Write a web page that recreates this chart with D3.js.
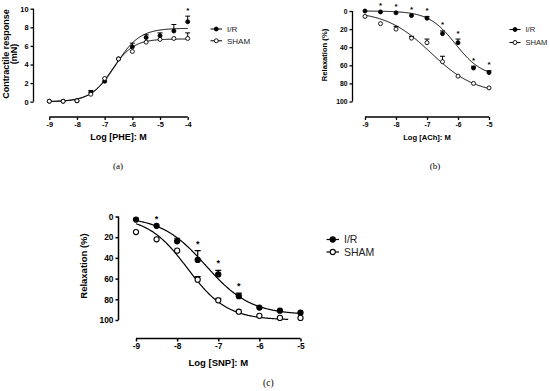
<!DOCTYPE html>
<html>
	<head>
		<meta charset="utf-8">
		<style>
			body {
				margin: 0;
				background: #fff;
			}
			svg {
				display: block;
				font-family: 'Liberation Sans', Arial, sans-serif;
			}
			.tick text {
				font-weight: bold;
			}
		</style>
	</head>
	<body>
		<svg id="chart" width="550" height="391"></svg>
		<script src="https://cdnjs.cloudflare.com/ajax/libs/d3/7.8.5/d3.min.js"></script>
		<script>
			// log molar concentrations
			let dosesA = [-9, -8.5, -8, -7.5, -7, -6.5, -6, -5.5, -5, -4.5, -4];
			let dosesBC = [-9, -8.5, -8, -7.5, -7, -6.5, -6, -5.5, -5];

			// (a) contractile response to PHE, mN
			let pheIR = [0.05, 0.05, 0.1, 1.0, 2.2, 4.6, 5.9, 6.9, 7.1, 7.6, 8.6];
			let pheIRErr = [0, 0, 0, 0.2, 0.3, 0, 0.4, 0.3, 0.3, 0.7, 0.6];
			let pheSham = [0.05, 0.05, 0.1, 0.8, 2.5, 4.6, 5.4, 6.4, 6.7, 6.8, 6.8];
			let pheShamErr = [0, 0, 0, 0, 0, 0, 0, 0, 0, 0, 0.6];
			let pheStars = [-4];
			// fitted curves: bottom, top, logEC50, hill
			let pheIRFit = [0, 7.9, -6.6, 1.0];
			let pheShamFit = [0, 6.75, -6.75, 1.1];

			// (b) relaxation to ACh, %
			let achIR = [0, 1, 2, 5, 8, 25, 35, 63, 68];
			let achIRErr = [0, 0, 0, 0, 2, 3, 4, 2, 2];
			let achSham = [6, 14, 20, 30, 35, 56, 72, 80, 85];
			let achShamErr = [0, 0, 3, 2, 4, 6, 0, 0, 0];
			let achStars = [-8.5, -8, -7.5, -7, -6.5, -6, -5.5, -5];
			let achIRFit = [0, 73, -6.08, 1.0];
			let achShamFit = [0, 92, -6.88, 0.6];

			// (c) relaxation to SNP, %
			let snpIR = [3, 9, 24, 42, 56, 77, 88, 91, 93];
			let snpIRErr = [0, 0, 3, 9, 4, 3, 0, 0, 0];
			let snpSham = [15, 22, 33, 61, 81, 92, 96, 98, 98];
			let snpShamErr = [0, 0, 0, 3, 2, 0, 0, 0, 0];
			let snpStars = [-8.5, -7.5, -7, -6.5];
			let snpIRFit = [0, 95, -7.3, 0.8];
			let snpShamFit = [0, 100, -7.75, 0.9];

			let seriesNames = ['I/R', 'SHAM'];
			let yTicksA = [0, 2, 4, 6, 8, 10];
			let yTicksBC = [0, 20, 40, 60, 80, 100];

			let svg = d3.select('#chart');

			function logistic(p, x) {
				return p[0] + (p[1] - p[0]) / (1 + Math.pow(10, (p[2] - x) * p[3]));
			}

			function panel(o) {
				let g = svg.append('g');
				let x = d3.scaleLinear().domain(o.xDomain).range(o.xRange);
				let y = d3.scaleLinear().domain(o.yDomain).range(o.yRange);
				// error bars go up on screen
				let dir = o.yRange[0] > o.yRange[1] ? 1 : -1;

				let yAxis = g.append('g')
					.attr('transform', `translate(${o.yAxisX},0)`)
					.call(d3.axisLeft(y).tickValues(o.yTicks).tickSize(3).tickPadding(2));
				let xAxis = g.append('g')
					.attr('transform', `translate(0,${o.xAxisY})`)
					.call(d3.axisBottom(x).tickValues(o.xTicks).tickSize(3).tickPadding(2)
						.tickFormat(d => String(d)));
				[yAxis, xAxis].forEach(a => {
					a.select('.domain').attr('stroke-width', o.axisW);
					a.selectAll('.tick line').attr('stroke-width', o.axisW);
					a.selectAll('.tick text').attr('font-size', o.tickFs).attr('fill', '#000');
				});
				xAxis.select('.domain').attr('d', `M${o.xRange[0]},0H${o.xRange[1]}`);
				yAxis.select('.domain').attr('d', `M0,${o.yRange[0]}V${o.yRange[1]}`);

				g.append('text')
					.attr('x', d3.mean(o.xRange))
					.attr('y', o.xTitleY)
					.attr('text-anchor', 'middle')
					.attr('font-weight', 'bold')
					.attr('font-size', o.titleFs)
					.text(o.xTitle);
				let yt = g.append('text')
					.attr('transform', `translate(${o.yTitleX},${o.yTitleY}) rotate(-90)`)
					.attr('text-anchor', 'middle')
					.attr('font-weight', 'bold')
					.attr('font-size', o.titleFs);
				o.yTitle.forEach((t, i) => {
					yt.append('tspan').attr('x', 0).attr('dy', i ? '0.93em' : 0).text(t);
				});

				g.append('text')
					.attr('x', o.label[0])
					.attr('y', o.label[1])
					.attr('text-anchor', 'middle')
					.attr('font-family', "'Liberation Serif', 'DejaVu Serif', serif")
					.attr('font-size', o.labelFs)
					.text(o.label[2]);

				let line = d3.line().x(d => x(d[0])).y(d => y(d[1]));
				o.series.forEach((s, si) => {
					let pts = d3.range(0, 201).map(i => {
						let xv = s.curve[0] + (s.curve[1] - s.curve[0]) * i / 200;
						return [xv, logistic(s.fit, xv)];
					});
					g.append('path')
						.attr('d', line(pts))
						.attr('fill', 'none')
						.attr('stroke', '#000')
						.attr('stroke-width', o.lineW);

					o.doses.forEach((d, i) => {
						let e = s.err[i];
						if (!e) return;
						let v = s.values[i];
						let y0 = y(v), y1 = y(v + e * dir);
						g.append('path')
							.attr('d', `M${x(d)},${y0}V${y1}M${x(d) - o.cap},${y1}H${x(d) + o.cap}`)
							.attr('stroke', '#000')
							.attr('stroke-width', o.lineW)
							.attr('fill', 'none');
					});

					g.selectAll(null)
						.data(o.doses)
						.join('circle')
						.attr('cx', d => x(d))
						.attr('cy', (d, i) => y(s.values[i]))
						.attr('r', o.r)
						.attr('fill', si === 0 ? '#000' : '#fff')
						.attr('stroke', '#000')
						.attr('stroke-width', o.lineW * 0.9);
				});

				// significance marks above I/R
				let ir = o.series[0];
				o.stars.forEach(d => {
					let i = o.doses.indexOf(d);
					let top = ir.values[i] + ir.err[i] * dir;
					g.append('text')
						.attr('x', x(d))
						.attr('y', y(top) - o.r - 1.5)
						.attr('text-anchor', 'middle')
						.attr('font-size', o.starFs)
						.attr('font-weight', 'bold')
						.text('*');
				});

				// legend
				seriesNames.forEach((n, i) => {
					let ly = o.legend[1] + i * o.legend[3];
					let lx = o.legend[0];
					g.append('line')
						.attr('x1', lx).attr('x2', lx + o.legend[2])
						.attr('y1', ly).attr('y2', ly)
						.attr('stroke', '#000')
						.attr('stroke-width', o.lineW);
					g.append('circle')
						.attr('cx', lx + o.legend[2] / 2)
						.attr('cy', ly)
						.attr('r', o.r)
						.attr('fill', i === 0 ? '#000' : '#fff')
						.attr('stroke', '#000')
						.attr('stroke-width', o.lineW * 0.9);
					g.append('text')
						.attr('x', lx + o.legend[2] + 5)
						.attr('y', ly)
						.attr('dy', '0.35em')
						.attr('font-size', o.legendFs)
						.attr('fill', '#222')
						.text(n);
				});
			}

			panel({
				doses: dosesA,
				xDomain: [-9, -4], xRange: [49.3, 187.7],
				yDomain: [0, 10], yRange: [101.7, 8.7],
				yAxisX: 33.5, xAxisY: 117,
				xTicks: d3.range(-9, -3.5, 1), yTicks: yTicksA,
				xTitle: 'Log [PHE]: M', xTitleY: 140,
				yTitle: ['Contractile response', '(mN)'], yTitleX: 9, yTitleY: 54,
				label: [118, 169, '(a)'],
				legend: [210.5, 29, 11.5, 11.8],
				series: [
					{ values: pheIR, err: pheIRErr, fit: pheIRFit, curve: [-9, -4] },
					{ values: pheSham, err: pheShamErr, fit: pheShamFit, curve: [-9, -4] },
				],
				stars: pheStars,
				tickFs: 7.4, titleFs: 9, labelFs: 9, legendFs: 8, starFs: 8,
				axisW: 1.3, lineW: 1, r: 2, cap: 2.5,
			});

			panel({
				doses: dosesBC,
				xDomain: [-9, -5], xRange: [365, 489],
				yDomain: [0, 100], yRange: [11, 101.5],
				yAxisX: 352.5, xAxisY: 117,
				xTicks: d3.range(-9, -4.5, 1), yTicks: yTicksBC,
				xTitle: 'Log [ACh]: M', xTitleY: 140,
				yTitle: ['Relaxation (%)'], yTitleX: 327, yTitleY: 55,
				label: [435, 169, '(b)'],
				legend: [509.5, 29.5, 11, 13],
				series: [
					{ values: achIR, err: achIRErr, fit: achIRFit, curve: [-9, -5] },
					{ values: achSham, err: achShamErr, fit: achShamFit, curve: [-9, -5] },
				],
				stars: achStars,
				tickFs: 6.8, titleFs: 7.6, labelFs: 9, legendFs: 7.6, starFs: 8,
				axisW: 1.3, lineW: 1, r: 2, cap: 2.5,
			});

			panel({
				doses: dosesBC,
				xDomain: [-9, -5], xRange: [136, 300.5],
				yDomain: [0, 100], yRange: [216.5, 320],
				yAxisX: 118.5, xAxisY: 338.5,
				xTicks: d3.range(-9, -4.5, 1), yTicks: yTicksBC,
				xTitle: 'Log [SNP]: M', xTitleY: 365.5,
				yTitle: ['Relaxation (%)'], yTitleX: 87, yTitleY: 266,
				label: [268.3, 386, '(c)'],
				legend: [326.5, 239.5, 12.5, 12.5],
				series: [
					{ values: snpIR, err: snpIRErr, fit: snpIRFit, curve: [-9, -5] },
					{ values: snpSham, err: snpShamErr, fit: snpShamFit, curve: [-9, -5.3] },
				],
				stars: snpStars,
				tickFs: 8.4, titleFs: 9.5, labelFs: 9.5, legendFs: 10.5, starFs: 9,
				axisW: 1.5, lineW: 1.2, r: 2.6, cap: 3,
			});
		</script>
	</body>
</html>
